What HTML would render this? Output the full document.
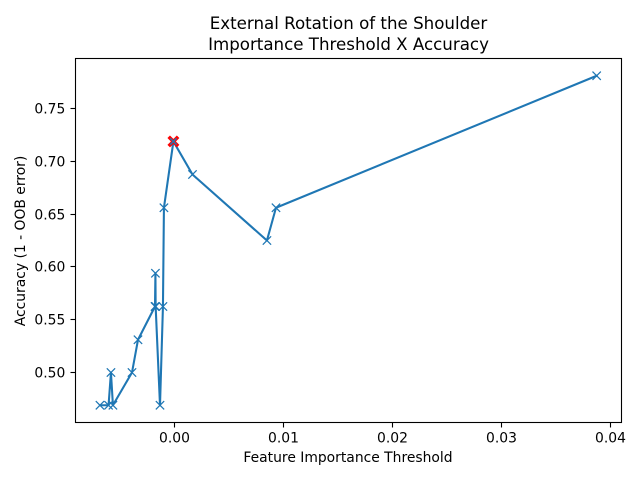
<!DOCTYPE html>
<html>
<head>
<meta charset="utf-8">
<style>
html,body{margin:0;padding:0;background:#fff;}
svg{display:block;}
text{font-family:"DejaVu Sans",sans-serif;fill:#000;}
</style>
</head>
<body>
<svg id="chart" width="640" height="480" viewBox="0 0 640 480" xmlns="http://www.w3.org/2000/svg">
<rect x="0" y="0" width="640" height="480" fill="#fff"/>
<text x="348.5" y="29" font-size="16.67" text-anchor="middle">External Rotation of the Shoulder</text>
<text x="348.5" y="50" font-size="16.67" text-anchor="middle">Importance Threshold X Accuracy</text>
<text x="348" y="462" font-size="13.89" text-anchor="middle">Feature Importance Threshold</text>
<text transform="translate(25 241) rotate(-90)" font-size="13.89" text-anchor="middle">Accuracy (1 - OOB error)</text>
<g id="plot"></g>
</svg>
<script>
const thresholds = [-0.00684,-0.00605,-0.00583,-0.00565,-0.0039,-0.00335,-0.00179,-0.00175,-0.00173,-0.00133,-0.00106,-0.00097,-0.0001,0.00165,0.00848,0.00931,0.03873];
const accuracies = [0.469,0.469,0.5,0.469,0.5,0.531,0.5625,0.594,0.5625,0.469,0.5625,0.656,0.7188,0.6875,0.625,0.656,0.781];
const bestThreshold = [-0.0001];
const bestAccuracy = [0.7188];
const xTicks = [0,0.01,0.02,0.03,0.04];
const xTickLabels = ["0.00","0.01","0.02","0.03","0.04"];
const yTicks = [0.5,0.55,0.6,0.65,0.7,0.75];
const yTickLabels = ["0.50","0.55","0.60","0.65","0.70","0.75"];

const NS = "http://www.w3.org/2000/svg";
const plot = document.getElementById("plot");
const left = 75.5, right = 621.5, top_ = 58.5, bottom = 422.5;
function xScale(v){ return 174.5 + v * 10900; }
function yScale(v){ return 372.5 - (v - 0.5) * 1056; }
function snap(p){ return Math.floor(p) + 0.5; }
function make(tag, attrs, parent){
  const el = document.createElementNS(NS, tag);
  for (const k in attrs) el.setAttribute(k, attrs[k]);
  (parent || plot).appendChild(el);
  return el;
}
xTicks.forEach(function(t, i){
  const x = snap(xScale(t));
  const tick = make("line", {x1:x, x2:x, y1:bottom, y2:bottom + 5, stroke:"#000", "stroke-width":1.1});
  
  
  const lab = make("text", {x:x, y:bottom + 20, "font-size":13.89, "text-anchor":"middle"});
  lab.textContent = xTickLabels[i];
  
  
});
yTicks.forEach(function(t, i){
  const y = snap(yScale(t));
  const tick = make("line", {x1:left - 5, x2:left, y1:y, y2:y, stroke:"#000", "stroke-width":1.1});
  
  
  const lab = make("text", {x:left - 10.2, y:y + 4.9, "font-size":13.89, "text-anchor":"end"});
  lab.textContent = yTickLabels[i];
  
  
});
const pts = thresholds.map(function(v, i){ return xScale(v).toFixed(2) + "," + yScale(accuracies[i]).toFixed(2); }).join(" ");
const line = make("polyline", {points:pts, fill:"none", stroke:"#1f77b4", "stroke-width":2.08, "stroke-linejoin":"round", "stroke-linecap":"square"});


function drawX(cx, cy, r, color, w, name){
  const g = make("path", {d:"M"+(cx-r)+" "+(cy-r)+"L"+(cx+r)+" "+(cy+r)+"M"+(cx-r)+" "+(cy+r)+"L"+(cx+r)+" "+(cy-r), fill:"none", stroke:color, "stroke-width":w});
  
  
}
thresholds.forEach(function(v, i){
  drawX(xScale(v), yScale(accuracies[i]), 4.17, "#1f77b4", 1.25, "accuracy-point");
});
bestThreshold.forEach(function(v, i){
  drawX(xScale(v), yScale(bestAccuracy[i]), 4.7, "#ff0000", 3.6, "best-accuracy-marker");
  drawX(xScale(v), yScale(bestAccuracy[i]), 3.2, "#1f77b4", 1.5, "best-accuracy-point");
});
const frame = make("rect", {x:left, y:top_, width:right-left, height:bottom-top_, fill:"none", stroke:"#000", "stroke-width":1.1});


</script>
</body>
</html>
